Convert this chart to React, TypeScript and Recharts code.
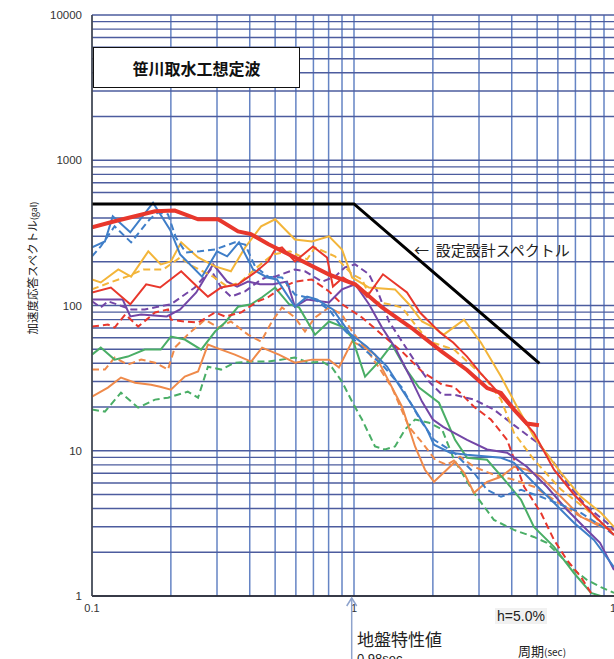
import React from 'react';
import { LineChart, Line, XAxis, YAxis, CartesianGrid } from 'recharts';

// period (sec) / acceleration response (gal)
const periodTicks = [0.1, 0.2, 0.3, 0.4, 0.5, 0.6, 0.7, 0.8, 0.9, 1, 2, 3, 4, 5, 6, 7, 8, 9, 10];
const accelTicks = [1, 2, 3, 4, 5, 6, 7, 8, 9, 10, 20, 30, 40, 50, 60, 70, 80, 90, 100, 200, 300, 400, 500, 600, 700, 800, 900, 1000, 2000, 3000, 4000, 5000, 6000, 7000, 8000, 9000, 10000];
const periodLabels = [0.1, 1, 10];
const accelLabels = [1, 10, 100, 1000, 10000];

const designSpectrum = [[0.1, 500], [1.0, 500], [5.1, 40]];

const redBold = [[0.1, 345], [0.122, 380], [0.174, 445], [0.207, 450], [0.254, 392], [0.303, 392], [0.361, 324], [0.404, 310], [0.47, 265], [0.596, 214], [0.8, 164], [1.01, 140], [1.28, 97], [1.66, 70], [2.17, 48], [2.7, 36], [3.22, 27], [3.64, 25], [4.08, 19.2], [4.57, 15.4], [5.08, 15]];

const redThin = [[0.1, 123], [0.118, 133], [0.14, 102], [0.161, 140], [0.182, 133], [0.219, 172], [0.254, 133], [0.277, 115], [0.311, 133], [0.361, 140], [0.419, 169], [0.47, 201], [0.5, 243], [0.531, 251], [0.595, 201], [0.697, 255], [0.789, 214], [0.831, 135], [0.908, 156], [1.027, 135], [1.121, 115], [1.29, 164], [1.593, 123], [1.786, 89.5], [2.13, 65.2], [2.39, 55.6], [2.7, 44.5], [3.03, 34.5], [3.39, 27.6], [3.84, 21.4], [4.3, 17.1], [4.86, 13.3], [5.8, 7.4], [6.91, 5.0], [8.24, 3.6], [9.83, 2.63]];

const redDash = [[0.1, 71.6], [0.115, 74], [0.122, 70.5], [0.134, 86.7], [0.15, 71.6], [0.174, 89.5], [0.195, 94], [0.2, 80], [0.226, 77.6], [0.254, 76.4], [0.295, 89.5], [0.322, 84], [0.37, 89.5], [0.43, 107], [0.47, 114], [0.531, 133], [0.595, 146], [0.691, 151], [0.803, 125], [0.9, 102], [1.073, 82.7], [1.279, 63], [1.525, 48.2], [1.818, 35.1], [2.17, 28.5], [2.41, 27.6], [2.87, 20.1], [3.33, 16.4], [3.84, 11.9], [4.46, 5.65], [5.17, 3.74], [5.8, 2.43], [6.5, 1.77], [7.35, 1.35], [8.03, 1.05], [8.5, 0.95]];

const blueSolid = [[0.1, 251], [0.112, 276], [0.12, 411], [0.14, 319], [0.171, 510], [0.199, 330], [0.217, 225], [0.263, 158], [0.3, 236], [0.328, 218], [0.364, 272], [0.412, 177], [0.466, 156], [0.508, 151], [0.595, 98], [0.662, 115], [0.722, 110], [0.831, 94], [0.965, 64], [1.121, 52], [1.337, 38], [1.498, 27.6], [1.68, 20.1], [1.899, 14.0], [2.02, 11], [2.33, 9.7], [2.7, 9.4], [3.64, 8.95], [4.08, 8.27], [4.86, 6.0], [5.8, 4.38], [6.91, 3.19], [8.24, 2.43], [9.83, 1.58]];

const blueDash = [[0.1, 218], [0.108, 255], [0.122, 351], [0.141, 272], [0.166, 392], [0.179, 438], [0.195, 424], [0.209, 294], [0.228, 232], [0.258, 236], [0.295, 243], [0.351, 272], [0.384, 263], [0.419, 186], [0.47, 158], [0.531, 156], [0.595, 119], [0.71, 110], [0.81, 92], [0.9, 70.5], [1.073, 51.3], [1.279, 39.2], [1.525, 27.2], [1.786, 16.4], [2.02, 11.9], [2.41, 9.7], [2.87, 7.05], [3.22, 5.38], [3.64, 4.82], [4.34, 5.38], [5.17, 4.82], [6.17, 4.25], [7.35, 3.74], [9.24, 2.85], [9.83, 2.63]];

const goldSolid = [[0.1, 151], [0.108, 144], [0.126, 177], [0.141, 158], [0.164, 236], [0.183, 192], [0.2, 201], [0.219, 272], [0.254, 214], [0.295, 186], [0.339, 172], [0.384, 251], [0.442, 351], [0.5, 392], [0.595, 285], [0.691, 276], [0.803, 299], [0.9, 243], [0.983, 156], [1.141, 133], [1.434, 129], [1.621, 102], [1.818, 77.6], [2.02, 70.5], [2.2, 63], [2.63, 80], [3.05, 55.6], [3.64, 32.4], [4.19, 20.1], [4.86, 12.5], [6.17, 7.05], [7.35, 4.82], [8.76, 3.74], [9.83, 2.99]];

const goldDash = [[0.1, 129], [0.117, 144], [0.136, 158], [0.157, 177], [0.187, 177], [0.217, 214], [0.243, 186], [0.29, 158], [0.328, 135], [0.367, 144], [0.426, 183], [0.491, 225], [0.57, 236], [0.662, 208], [0.71, 251], [0.846, 218], [0.983, 164], [1.073, 151], [1.172, 107], [1.36, 102], [1.525, 97], [1.71, 74], [1.933, 56.5], [2.41, 49.7], [3.13, 32.4], [3.64, 22.5], [4.08, 13.3], [4.86, 8.67], [6.17, 5.4], [7.75, 3.92], [9.83, 2.63]];

const purpleSolid = [[0.1, 110], [0.131, 110], [0.14, 84], [0.154, 86.7], [0.193, 84], [0.217, 94], [0.25, 123], [0.29, 192], [0.328, 146], [0.358, 135], [0.394, 146], [0.438, 140], [0.491, 140], [0.555, 146], [0.595, 98], [0.662, 110], [0.803, 105], [0.9, 129], [1.01, 140], [1.141, 102], [1.279, 70.5], [1.434, 51.3], [1.621, 33.4], [1.818, 21.8], [2.0, 16.4], [2.19, 14.6], [2.7, 11.9], [3.22, 10.2], [3.84, 9.7], [4.57, 7.76], [5.45, 5.65], [6.5, 3.92], [7.75, 2.85], [8.69, 2.32], [9.83, 1.51]];

const purpleDash = [[0.1, 107], [0.108, 97], [0.115, 107], [0.141, 94], [0.159, 94], [0.2, 102], [0.247, 133], [0.284, 177], [0.311, 133], [0.339, 115], [0.384, 125], [0.442, 151], [0.47, 158], [0.5, 158], [0.595, 177], [0.65, 172], [0.755, 146], [0.846, 158], [0.924, 183], [1.01, 192], [1.141, 164], [1.245, 119], [1.36, 77.6], [1.525, 56.5], [1.71, 41.1], [1.933, 29.9], [2.17, 24.3], [2.41, 24.3], [2.87, 22.5], [3.42, 19.2], [3.97, 15.6], [4.46, 13.3], [5.0, 11.4], [5.8, 8.27], [6.5, 6.01], [7.75, 4.11], [9.24, 3.19], [9.83, 2.85]];

const greenSolid = [[0.1, 45.9], [0.108, 51.3], [0.122, 42.4], [0.137, 44.5], [0.159, 49.7], [0.183, 49.7], [0.2, 61.1], [0.226, 58.3], [0.261, 49.7], [0.295, 66.2], [0.322, 76.4], [0.361, 98], [0.405, 102], [0.446, 114], [0.5, 133], [0.565, 102], [0.617, 97], [0.71, 63], [0.803, 77.6], [0.9, 71.6], [0.983, 60.1], [1.102, 32.4], [1.245, 41.1], [1.396, 53.8], [1.565, 37.4], [1.771, 27.2], [2.11, 21.4], [2.43, 11.9], [2.7, 8.95], [3.22, 8.67], [3.84, 6.01], [4.34, 4.59], [4.86, 2.99], [5.8, 2.18], [6.91, 1.44], [8.03, 1.05], [9.24, 0.97]];

const greenDash = [[0.1, 19.2], [0.112, 18.6], [0.129, 25.1], [0.15, 19.8], [0.174, 22.5], [0.195, 23.2], [0.232, 25.5], [0.254, 23.2], [0.277, 37.9], [0.311, 36.2], [0.351, 40.4], [0.405, 41.1], [0.47, 41.1], [0.595, 43.8], [0.673, 40.4], [0.755, 41.1], [0.824, 37.4], [0.9, 29.9], [0.983, 21.8], [1.073, 16.4], [1.203, 10.7], [1.313, 10.2], [1.434, 10.7], [1.565, 14.0], [1.71, 16.4], [1.933, 15.6], [2.17, 14.0], [2.41, 8.67], [2.87, 5.13], [3.42, 3.34], [4.08, 2.85], [4.86, 2.55], [5.45, 2.32], [6.17, 1.86], [6.91, 1.51], [7.75, 1.29], [8.76, 1.15], [9.83, 1.05]];

const orangeSolid = [[0.1, 23.6], [0.115, 27.2], [0.129, 31.9], [0.146, 29.4], [0.168, 28.5], [0.182, 27.6], [0.2, 26.3], [0.226, 32.4], [0.254, 35.1], [0.277, 53.8], [0.311, 49.7], [0.351, 45.9], [0.405, 41.1], [0.446, 51.3], [0.517, 45.9], [0.595, 40.4], [0.691, 42.4], [0.803, 42.4], [0.876, 37.4], [0.983, 56.5], [1.102, 51.3], [1.203, 45.9], [1.36, 29.9], [1.525, 20.1], [1.71, 10.7], [1.866, 7.4], [2.02, 6.11], [2.26, 7.4], [2.43, 8.4], [2.63, 7.05], [2.87, 5.13], [3.22, 6.11], [3.64, 6.62], [4.08, 7.76], [4.57, 7.4], [5.17, 6.62], [5.8, 5.38], [6.5, 4.38], [7.35, 3.51], [8.76, 2.99], [9.83, 2.85]];

const orangeDash = [[0.1, 36.2], [0.112, 36.2], [0.122, 43.8], [0.137, 39.2], [0.154, 42.4], [0.174, 40.4], [0.195, 36.2], [0.207, 51.3], [0.232, 63], [0.27, 80], [0.303, 70.5], [0.339, 77.6], [0.394, 63], [0.442, 56.5], [0.486, 77.6], [0.531, 97], [0.595, 82.7], [0.65, 66.2], [0.71, 82.7], [0.803, 97], [0.9, 86.7], [0.983, 66.2], [1.102, 51.3], [1.245, 37.4], [1.396, 27.2], [1.621, 14.6], [1.818, 11.4], [2.04, 8.67], [2.26, 8.0], [2.54, 9.1], [2.87, 7.76], [3.42, 6.83], [4.08, 6.31], [4.86, 5.65], [5.8, 4.59], [7.35, 3.51], [8.76, 3.09], [9.83, 2.77]];

const groundPeriod = 0.98;

const RED = '#e8372c';
const BLUE = '#3f7ec8';
const GOLD = '#f3b53a';
const PURPLE = '#7346a6';
const GREEN = '#4aae66';
const ORANGE = '#ef8a4a';
const DASH = '7 4';

const pts = (a: number[][]) => a.map(([t, v]) => ({ t, v }));

// plot box geometry (pixels)
const PL = 92, PR = 616, PT = 15, PB = 596;
const xOf = (t: number) => PL + (PR - PL) * Math.log10(t / 0.1) / 2;

const jp = '"Noto Sans CJK JP", "Noto Sans", sans-serif';
const lat = '"Liberation Sans", Arial, sans-serif';

export default function App() {
  const series: [number[][], string, boolean, number][] = [
    [greenDash, GREEN, true, 2],
    [orangeDash, ORANGE, true, 2],
    [orangeSolid, ORANGE, false, 2],
    [greenSolid, GREEN, false, 2],
    [redDash, RED, true, 2],
    [purpleDash, PURPLE, true, 2],
    [purpleSolid, PURPLE, false, 2],
    [goldDash, GOLD, true, 2],
    [goldSolid, GOLD, false, 2],
    [blueDash, BLUE, true, 2],
    [blueSolid, BLUE, false, 2],
    [redThin, RED, false, 2],
  ];
  const ax = xOf(groundPeriod);
  return (
    <div style={{ position: 'absolute', left: 0, top: 0, width: 614, height: 659, overflow: 'hidden', background: '#fff' }}>
      <LineChart width={640} height={659} margin={{ top: PT, right: 640 - PR, bottom: 43, left: 32 }}>
        <CartesianGrid horizontal={false} vertical={true} stroke="#6584c4" strokeWidth={1.5} />
        <CartesianGrid horizontal={true} vertical={false} stroke="#4c5c9e" strokeWidth={1.4} />
        <XAxis dataKey="t" type="number" scale="log" domain={[0.1, 10]} ticks={periodTicks} interval={0}
          allowDataOverflow height={20} tickLine={false} axisLine={{ stroke: '#222', strokeWidth: 1.5 }}
          tick={{ fill: '#333', fontSize: 11, fontFamily: lat }}
          tickFormatter={(v: number) => (periodLabels.includes(v) ? String(v) : '')} />
        <YAxis type="number" scale="log" domain={[1, 10000]} ticks={accelTicks} interval={0}
          allowDataOverflow width={60} tickLine={false} axisLine={{ stroke: '#444', strokeWidth: 1.5 }}
          tick={{ fill: '#333', fontSize: 11.5, fontFamily: lat }} tickMargin={4}
          tickFormatter={(v: number) => (accelLabels.includes(v) ? String(v) : '')} />
        {series.map(([d, c, dashed, w], i) => (
          <Line key={i} data={pts(d)} dataKey="v" type="linear" stroke={c} strokeWidth={w}
            strokeDasharray={dashed ? DASH : undefined} dot={false} isAnimationActive={false} />
        ))}
        <Line data={pts(redBold)} dataKey="v" type="linear" stroke={RED} strokeWidth={4} dot={false} isAnimationActive={false} />
        <Line data={pts(designSpectrum)} dataKey="v" type="linear" stroke="#000" strokeWidth={3} dot={false} isAnimationActive={false} />
      </LineChart>

      <div style={{ position: 'absolute', left: 93, top: 47, width: 205, height: 39, border: '1.5px solid #111', background: '#fff',
        display: 'flex', alignItems: 'center', justifyContent: 'center', fontFamily: jp, fontWeight: 700, fontSize: 16, color: '#111' }}>
        笹川取水工想定波
      </div>

      <div style={{ position: 'absolute', left: 414, top: 239, fontFamily: jp, fontSize: 15, color: '#222', whiteSpace: 'nowrap' }}>
        ←&nbsp;&nbsp;設定設計スペクトル
      </div>

      <div style={{ position: 'absolute', left: 32, top: 268, width: 0, height: 0 }}>
        <div style={{ position: 'absolute', transform: 'translate(-50%, -50%) rotate(-90deg)', whiteSpace: 'nowrap',
          fontFamily: jp, fontSize: 11.5, color: '#222' }}>
          加速度応答スペクトル<span style={{ fontSize: 9 }}>(gal)</span>
        </div>
      </div>

      <div style={{ position: 'absolute', left: 495, top: 608, padding: '0 2px', background: '#f1f1f1', fontFamily: lat, fontSize: 14, color: '#222' }}>
        h=5.0%
      </div>

      <div style={{ position: 'absolute', left: 518, top: 644, fontFamily: jp, fontSize: 13, lineHeight: '14px', color: '#222', whiteSpace: 'nowrap' }}>
        周期<span style={{ fontSize: 10 }}>(sec)</span>
      </div>

      <div style={{ position: 'absolute', left: 357, top: 627, fontFamily: jp, fontSize: 17, color: '#222', whiteSpace: 'nowrap', lineHeight: '24px' }}>
        地盤特性値
        <div style={{ fontFamily: lat, fontSize: 13, lineHeight: '16px' }}>0.98sec</div>
      </div>

      <svg style={{ position: 'absolute', left: 0, top: 0, pointerEvents: 'none' }} width={614} height={659}>
        <line x1={ax} y1={PB + 2} x2={ax} y2={659} stroke="#8ea3cc" strokeWidth={1.5} />
        <polyline points={`${ax - 5},${PB + 10} ${ax},${PB + 2} ${ax + 5},${PB + 10}`} fill="none" stroke="#8ea3cc" strokeWidth={1.5} />
      </svg>
    </div>
  );
}
